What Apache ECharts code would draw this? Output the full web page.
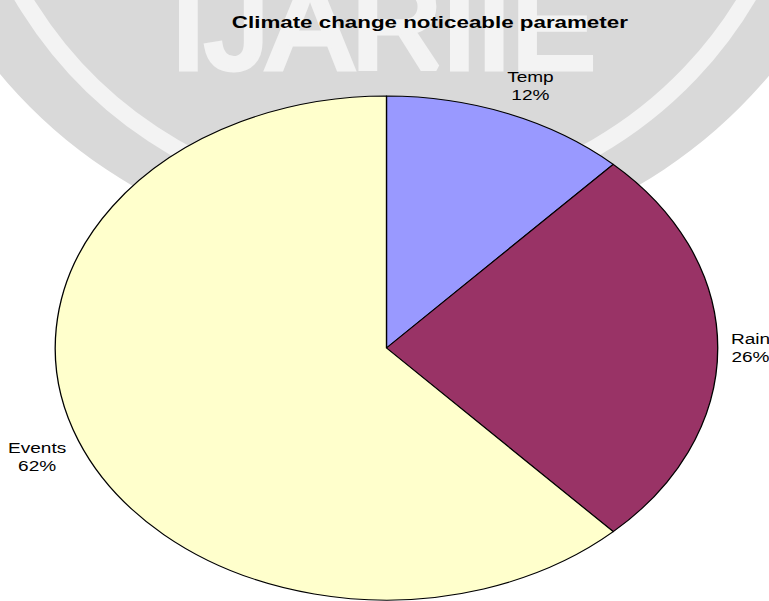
<!DOCTYPE html>
<html>
<head>
<meta charset="utf-8">
<script src="https://cdn.jsdelivr.net/npm/echarts@6/dist/echarts.min.js"></script>
<style>
  html, body { margin: 0; padding: 0; background: #ffffff; overflow: hidden; }
  #stage { position: relative; width: 769px; height: 601px; overflow: hidden; background: #ffffff; }
  #chart { position: absolute; left: 0; top: 0; width: 585px; height: 601px; transform-origin: 0 0; }
</style>
</head>
<body>
<div id="stage"><div id="chart"></div></div>
<script>
// Slice data
const categories = ['Temp', 'Rain', 'Events'];
const shares = [12, 26, 62];
const sliceColors = ['#9999ff', '#993366', '#ffffcc'];
const chartTitle = 'Climate change noticeable parameter';
const watermarkText = 'IJARIIE';

// The chart is laid out in a narrower frame and widened horizontally,
// which turns the round pie into the wide ellipse.
const PAGE_W = 769;
const FRAME_W = 585;
const STRETCH = PAGE_W / FRAME_W;
const PIE_CENTER = [294, 348];
const PIE_RADIUS = 252;
const LABEL_GAP = 10;
const FONT = 'Arial, "Liberation Sans", sans-serif';

const chartDom = document.getElementById('chart');
chartDom.style.transform = 'scaleX(' + STRETCH + ')';
const chart = echarts.init(chartDom, null, { renderer: 'svg' });

// Mid angle of every slice, clockwise from 12 o'clock, for label placement
const total = shares.reduce((a, b) => a + b, 0);
const midAngles = [];
let running = 0;
shares.forEach(v => {
  midAngles.push((running + v / 2) / total * 2 * Math.PI);
  running += v;
});

const pieData = categories.map((name, i) => ({
  name: name,
  value: shares[i],
  itemStyle: { color: sliceColors[i] }
}));

// How far the label box leans away from its anchor point on each axis
function lean(v) {
  return Math.max(-1, Math.min(1, v / 0.5));
}

const option = {
  animation: false,
  backgroundColor: 'transparent',
  title: {
    text: chartTitle,
    left: 327,
    top: 13,
    padding: 0,
    textAlign: 'center',
    textStyle: { fontFamily: FONT, fontSize: 17, fontWeight: 'bold', color: '#000000' }
  },
  // Journal logo printed behind the chart (drawn in page units)
  graphic: [{
    type: 'group',
    x: 0,
    y: 0,
    scaleX: 1 / STRETCH,
    silent: true,
    z: 0,
    children: [
      { type: 'circle', shape: { cx: 385, cy: -248, r: 502 }, style: { fill: '#d9d9d9' } },
      { type: 'circle', shape: { cx: 385, cy: -217, r: 421 }, style: { fill: 'none', stroke: '#f3f3f3', lineWidth: 17 } },
      {
        type: 'text', x: 383, y: 25,
        style: {
          text: watermarkText, fill: '#f3f3f3', stroke: '#f3f3f3', lineWidth: 7,
          font: '125px ' + FONT, align: 'center', verticalAlign: 'middle'
        }
      }
    ]
  }],
  series: [{
    type: 'pie',
    center: PIE_CENTER,
    radius: PIE_RADIUS,
    startAngle: 90,
    clockwise: true,
    avoidLabelOverlap: false,
    data: pieData,
    itemStyle: { borderColor: '#000000', borderWidth: 1 },
    emphasis: { disabled: true },
    label: {
      show: true,
      position: 'outside',
      formatter: '{b}\n{d}%',
      fontFamily: FONT,
      fontSize: 14.5,
      lineHeight: 18,
      color: '#000000'
    },
    labelLine: { show: false },
    // Anchor each label just outside the rim on the slice's middle direction,
    // with the text box pushed outward from that anchor
    labelLayout: function (p) {
      const a = midAngles[p.dataIndex];
      const dx = Math.sin(a);
      const dy = -Math.cos(a);
      const reach = PIE_RADIUS + LABEL_GAP;
      return {
        x: PIE_CENTER[0] + dx * reach + lean(dx) * p.labelRect.width / 2,
        y: PIE_CENTER[1] + dy * reach + lean(dy) * p.labelRect.height / 2,
        align: 'center',
        verticalAlign: 'middle'
      };
    }
  }]
};

chart.setOption(option);
</script>
</body>
</html>
